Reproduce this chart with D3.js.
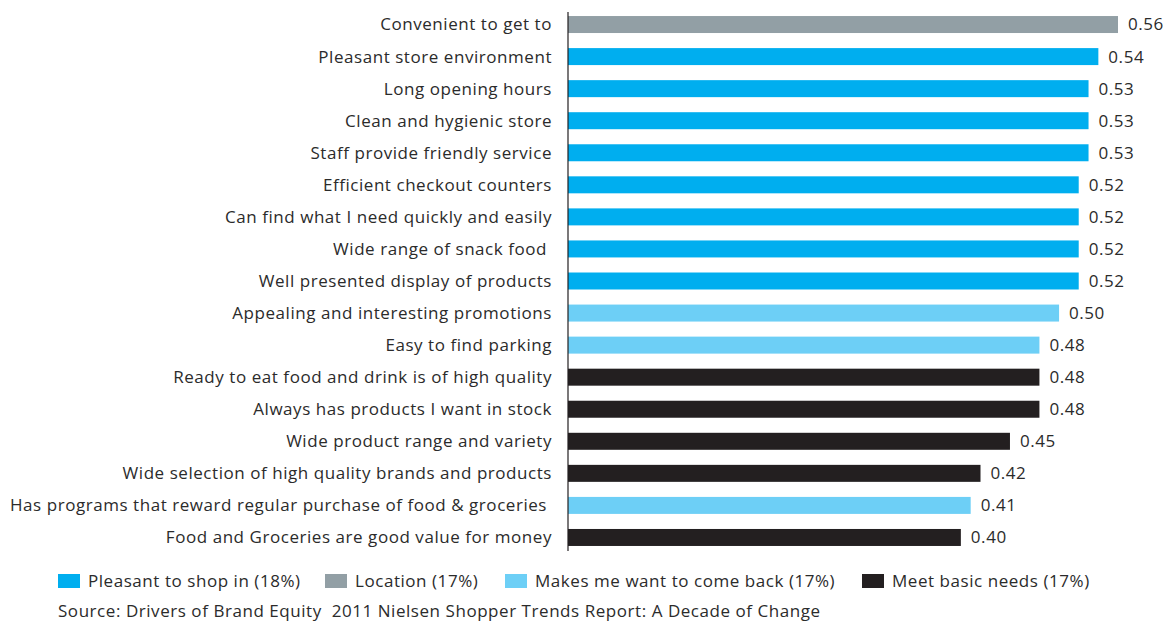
<!DOCTYPE html>
<html>
<head>
<meta charset="utf-8">
<script src="https://cdn.jsdelivr.net/npm/d3@7"></script>
<style>
body { margin: 0; background: #fff; }
svg text { font-family: "Open Sans", sans-serif; fill: #2b2b2b; font-size: 17px; letter-spacing: 0.55px; }
</style>
</head>
<body>
<div id="chart"></div>
<script>
// attributes, top to bottom
const labels = [
	"Convenient to get to",
	"Pleasant store environment",
	"Long opening hours",
	"Clean and hygienic store",
	"Staff provide friendly service",
	"Efficient checkout counters",
	"Can find what I need quickly and easily",
	"Wide range of snack food ",
	"Well presented display of products",
	"Appealing and interesting promotions",
	"Easy to find parking",
	"Ready to eat food and drink is of high quality",
	"Always has products I want in stock",
	"Wide product range and variety",
	"Wide selection of high quality brands and products",
	"Has programs that reward regular purchase of food & groceries ",
	"Food and Groceries are good value for money"
];
const values = [0.56, 0.54, 0.53, 0.53, 0.53, 0.52, 0.52, 0.52, 0.52, 0.50, 0.48, 0.48, 0.48, 0.45, 0.42, 0.41, 0.40];
const groups = ["loc", "shop", "shop", "shop", "shop", "shop", "shop", "shop", "shop", "back", "back", "basic", "basic", "basic", "basic", "back", "basic"];

const legendKeys = ["shop", "loc", "back", "basic"];
const legendNames = ["Pleasant to shop in (18%)", "Location (17%)", "Makes me want to come back (17%)", "Meet basic needs (17%)"];
const legendX = [58, 325, 505, 862];
const colors = {shop: "#00aeef", loc: "#929fa5", back: "#6dcff6", basic: "#231f20"};

const source = "Source: Drivers of Brand Equity  2011 Nielsen Shopper Trends Report: A Decade of Change";

const width = 1163, height = 621;
const x0 = 568;

const svg = d3.select("#chart").append("svg")
	.attr("width", width)
	.attr("height", height);

const x = d3.scaleLinear().domain([0, 0.56]).range([x0, 1118]);
const y = d3.scaleBand().domain(d3.range(labels.length)).range([8.5, 553.5]).paddingInner(0.47).paddingOuter(0.235);

svg.selectAll("rect.bar")
	.data(values)
	.enter().append("rect")
	.attr("class", "bar")
	.attr("x", x(0))
	.attr("y", (d, i) => y(i))
	.attr("width", d => x(d) - x(0))
	.attr("height", y.bandwidth())
	.attr("fill", (d, i) => colors[groups[i]]);

// category labels
svg.selectAll("text.cat")
	.data(labels)
	.enter().append("text")
	.attr("class", "cat")
	.attr("x", 552)
	.attr("y", (d, i) => y(i) + y.bandwidth() / 2)
	.attr("dy", "0.35em")
	.attr("text-anchor", "end")
	.style("white-space", "pre")
	.text(d => d);

// value labels
svg.selectAll("text.val")
	.data(values)
	.enter().append("text")
	.attr("class", "val")
	.attr("x", d => x(d) + 10)
	.attr("y", (d, i) => y(i) + y.bandwidth() / 2)
	.attr("dy", "0.35em")
	.text(d => d.toFixed(2));

// axis line
svg.append("line")
	.attr("x1", x0).attr("x2", x0)
	.attr("y1", 12).attr("y2", 551)
	.attr("stroke", "#231f20")
	.attr("stroke-width", 1.2);

// legend
const leg = svg.selectAll("g.leg")
	.data(legendKeys)
	.enter().append("g")
	.attr("class", "leg")
	.attr("transform", (d, i) => "translate(" + legendX[i] + ",574)");
leg.append("rect")
	.attr("width", 22).attr("height", 14)
	.attr("fill", d => colors[d]);
leg.append("text")
	.attr("x", 30).attr("y", 7)
	.attr("dy", "0.35em")
	.text((d, i) => legendNames[i]);

svg.append("text")
	.attr("x", 58).attr("y", 611)
	.attr("dy", "0.35em")
	.style("white-space", "pre")
	.text(source);
</script>
</body>
</html>
